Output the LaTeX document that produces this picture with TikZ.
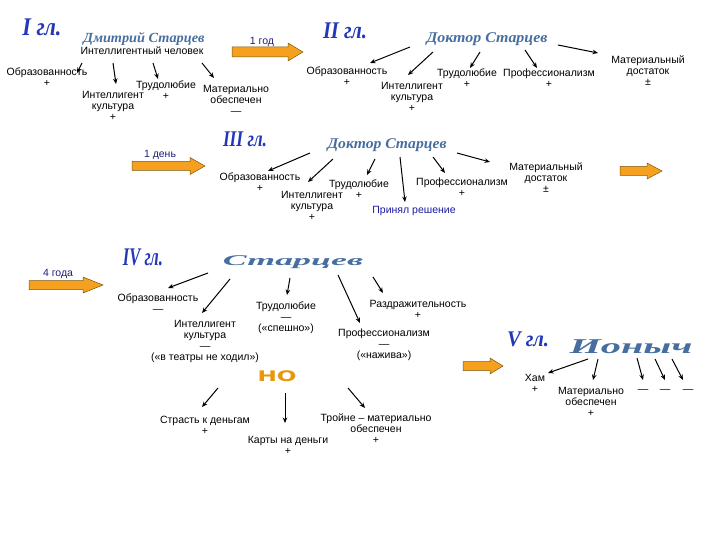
\documentclass[tikz,border=0pt]{standalone}
\usepackage{fontspec}
\usepackage{graphicx}
\setmainfont{Liberation Sans}
\newfontfamily\namefont{Liberation Serif}
\newfontfamily\heavyfont{DejaVu Sans}
\usetikzlibrary{arrows.meta}
\definecolor{ttlblue}{RGB}{35,55,185}
\definecolor{nameblue}{RGB}{70,110,160}
\definecolor{lblnavy}{RGB}{30,30,120}
\definecolor{arrfill}{RGB}{245,160,30}
\definecolor{arrdraw}{RGB}{120,90,20}
\definecolor{noorange}{RGB}{232,150,10}
\definecolor{decblue}{RGB}{25,25,160}
\tikzset{
  txt/.style={font=\fontsize{10.5}{11}\selectfont, align=center, inner sep=0pt},
  ttl/.style={text=ttlblue, inner sep=0pt},
  nm/.style={text=nameblue, inner sep=0pt},
  con/.style={draw=black, line width=1pt, -{Stealth[length=5.5pt,width=4.5pt]}},
  blk/.style={fill=arrfill, draw=arrdraw, line width=0.5pt},
  lbl/.style={txt, text=lblnavy},
}
\newcommand{\fitttl}[3]{\resizebox*{#1pt}{#2pt}{\namefont\bfseries\itshape #3}}
\newcommand{\blkarr}[6]{%
  \path[blk] (#1,{#4-#5}) -- (#2,{#4-#5}) -- (#2,{#4-#6}) -- (#3,#4) -- (#2,{#4+#6}) -- (#2,{#4+#5}) -- (#1,{#4+#5}) -- cycle;}
\begin{document}
\begin{tikzpicture}[x=1pt,y=-1pt]
\useasboundingbox (0,0) rectangle (720,540);

% ---------- I ----------
\node[ttl] (t1) at (42,27) {\fitttl{39}{17}{I гл.}};
\node[nm] (dm) at (144,39) {\fitttl{121}{13}{Дмитрий Старцев}};
\node[txt] (ic) at (142,51) {Интеллигентный человек};
\node[txt] (o1) at (47,77) {Образованность\\+};
\node[txt] (i1) at (113,106) {Интеллигент\\культура\\+};
\node[txt] (tr1) at (166,90) {Трудолюбие\\+};
\node[txt] (m1) at (236,100) {Материально\\обеспечен\\—};
\coordinate (a1s) at (82,63);  \coordinate (a1e) at (77,73);
\coordinate (b1s) at (113,63); \coordinate (b1e) at (116,84);
\coordinate (c1s) at (153,63); \coordinate (c1e) at (158,79);
\coordinate (d1s) at (202,63); \coordinate (d1e) at (214,78);
\draw[con] (a1s) -- (a1e);
\draw[con] (b1s) -- (b1e);
\draw[con] (c1s) -- (c1e);
\draw[con] (d1s) -- (d1e);
\blkarr{232}{288}{303}{52}{5}{9}
\node[lbl] (l1) at (262,42) {1 год};

% ---------- II ----------
\node[ttl] (t2) at (345,31) {\fitttl{44}{16}{II гл.}};
\node[nm] (dc2) at (487,39) {\fitttl{121}{13}{Доктор Старцев}};
\node[txt] (o2) at (347,76) {Образованность\\+};
\node[txt] (i2) at (412,97) {Интеллигент\\культура\\+};
\node[txt] (tr2) at (467,78) {Трудолюбие\\+};
\node[txt] (p2) at (549,78) {Профессионализм\\+};
\node[txt] (m2) at (648,71) {Материальный\\достаток\\±};
\coordinate (a2s) at (410,47); \coordinate (a2e) at (370,63);
\coordinate (b2s) at (433,52); \coordinate (b2e) at (408,75);
\coordinate (c2s) at (480,52); \coordinate (c2e) at (470,68);
\coordinate (d2s) at (525,50); \coordinate (d2e) at (537,68);
\coordinate (e2s) at (558,45); \coordinate (e2e) at (598,53);
\draw[con] (a2s) -- (a2e);
\draw[con] (b2s) -- (b2e);
\draw[con] (c2s) -- (c2e);
\draw[con] (d2s) -- (d2e);
\draw[con] (e2s) -- (e2e);

% ---------- III ----------
\blkarr{132}{190}{205}{166}{4.5}{8.5}
\node[lbl] (l3) at (160,155) {1 день};
\node[ttl] (t3) at (245,139) {\fitttl{44}{15}{III гл.}};
\node[nm] (dc3) at (387,145) {\fitttl{119}{13}{Доктор Старцев}};
\node[txt] (o3) at (260,182) {Образованность\\+};
\node[txt] (i3) at (312,206) {Интеллигент\\культура\\+};
\node[txt] (tr3) at (359,189) {Трудолюбие\\+};
\node[txt, text=decblue] (pr3) at (414,211) {Принял решение};
\node[txt] (p3) at (462,187) {Профессионализм\\+};
\node[txt] (m3) at (546,178) {Материальный\\достаток\\±};
\coordinate (a3s) at (310,153); \coordinate (a3e) at (268,171);
\coordinate (b3s) at (333,159); \coordinate (b3e) at (308,182);
\coordinate (c3s) at (375,159); \coordinate (c3e) at (367,175);
\coordinate (d3s) at (400,157); \coordinate (d3e) at (405,202);
\coordinate (e3s) at (433,157); \coordinate (e3e) at (445,173);
\coordinate (f3s) at (457,153); \coordinate (f3e) at (490,162);
\draw[con] (a3s) -- (a3e);
\draw[con] (b3s) -- (b3e);
\draw[con] (c3s) -- (c3e);
\draw[con] (d3s) -- (d3e);
\draw[con] (e3s) -- (e3e);
\draw[con] (f3s) -- (f3e);
\blkarr{620}{647}{662}{171}{4.5}{8}

% ---------- IV ----------
\blkarr{29}{83}{103}{285}{4.5}{8}
\node[lbl] (l4) at (58,274) {4 года};
\node[ttl] (t4) at (143,257) {\fitttl{40}{17}{IV гл.}};
\node[nm] (st4) at (293,262) {\fitttl{140}{13}{Старцев}};
\node[txt] (o4) at (158,303) {Образованность\\—};
\node[txt] (i4) at (205,341) {Интеллигент\\культура\\—\\(«в театры не ходил»)};
\node[txt] (tr4) at (286,318) {Трудолюбие\\—\\(«спешно»)};
\node[txt] (r4) at (418,309) {Раздражительность\\+};
\node[txt] (p4) at (384,345) {Профессионализм\\—\\(«нажива»)};
\coordinate (a4s) at (208,273); \coordinate (a4e) at (168,288);
\coordinate (b4s) at (230,279); \coordinate (b4e) at (202,313);
\coordinate (c4s) at (290,278); \coordinate (c4e) at (287,295);
\coordinate (d4s) at (338,275); \coordinate (d4e) at (360,323);
\coordinate (e4s) at (373,277); \coordinate (e4e) at (383,293);
\draw[con] (a4s) -- (a4e);
\draw[con] (b4s) -- (b4e);
\draw[con] (c4s) -- (c4e);
\draw[con] (d4s) -- (d4e);
\draw[con] (e4s) -- (e4e);
\node[inner sep=0pt, text=noorange] (no) at (277,376) {\resizebox*{39pt}{11pt}{\heavyfont\bfseries НО}};
\node[txt] (s4) at (205,425) {Страсть к деньгам\\+};
\node[txt] (k4) at (288,445) {Карты на деньги\\+};
\node[txt] (tb4) at (376,429) {Тройне – материально\\обеспечен\\+};
\coordinate (g4s) at (218,388); \coordinate (g4e) at (202,407);
\coordinate (h4s) at (285,393); \coordinate (h4e) at (285,423);
\coordinate (j4s) at (348,388); \coordinate (j4e) at (365,408);
\draw[con] (g4s) -- (g4e);
\draw[con] (h4s) -- (h4e);
\draw[con] (j4s) -- (j4e);

% ---------- V ----------
\blkarr{463}{490}{503}{366}{4.5}{8}
\node[ttl] (t5) at (528,339) {\fitttl{42}{15}{V гл.}};
\node[nm] (ion) at (631,347) {\fitttl{123}{14}{Ионыч}};
\node[txt] (h5) at (535,383) {Хам\\+};
\node[txt] (m5) at (591,402) {Материально\\обеспечен\\+};
\node[txt] (q1) at (643,391) {—};
\node[txt] (q2) at (665,391) {—};
\node[txt] (q3) at (688,391) {—};
\coordinate (a5s) at (588,359); \coordinate (a5e) at (548,373);
\coordinate (b5s) at (598,359); \coordinate (b5e) at (593,380);
\coordinate (c5s) at (637,358); \coordinate (c5e) at (643,380);
\coordinate (d5s) at (655,359); \coordinate (d5e) at (665,380);
\coordinate (e5s) at (672,359); \coordinate (e5e) at (683,380);
\draw[con] (a5s) -- (a5e);
\draw[con] (b5s) -- (b5e);
\draw[con] (c5s) -- (c5e);
\draw[con] (d5s) -- (d5e);
\draw[con] (e5s) -- (e5e);
\end{tikzpicture}
\end{document}
